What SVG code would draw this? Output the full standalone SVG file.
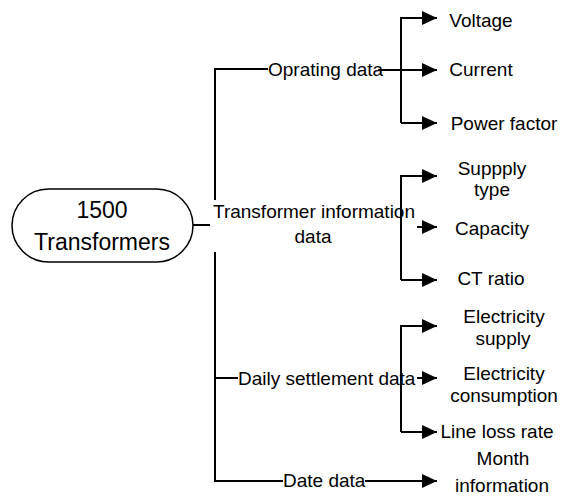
<svg xmlns="http://www.w3.org/2000/svg" width="570" height="502" viewBox="0 0 570 502">
<defs>
<style>
.ln{stroke:#000;stroke-width:2;fill:none}
.ar{stroke:#000;stroke-width:2;fill:none;marker-end:url(#ah)}
text{font-family:"Liberation Sans",Arial,sans-serif;font-size:19px;fill:#000}
.m{text-anchor:middle}
.root{font-size:23px}
</style>
<marker id="ah" markerUnits="userSpaceOnUse" markerWidth="16" markerHeight="14" refX="15" refY="7" orient="auto" viewBox="0 0 16 14">
<path d="M0,0 L15,7 L0,14 z" fill="#000"/>
</marker>
</defs>
<rect width="570" height="502" fill="#fff"/>
<g id="connectors">
<path class="ln" d="M193,225 H210"/>
<path class="ln" d="M268,69 H215 V200"/>
<path class="ln" d="M215,252 V481 H283"/>
<path class="ln" d="M215,378 H238"/>
<path class="ln" d="M378,70 H401"/>
<path class="ar" d="M401,70 H437"/>
<path class="ar" d="M401,123 V18 H437"/>
<path class="ar" d="M401,123 H437"/>
<path class="ar" d="M401,280 V176 H437"/>
<path class="ar" d="M401,280 H437"/>
<path class="ar" d="M417,227 H437"/>
<path class="ar" d="M401,432 V326 H437"/>
<path class="ar" d="M401,432 H437"/>
<path class="ar" d="M417,378 H437"/>
<path class="ar" d="M365,481 H437"/>
</g>
<g id="root">
<rect x="12" y="189" width="181" height="73" rx="36.5" ry="36.5" fill="#fff" stroke="#000" stroke-width="1.5"/>
<text class="m root" x="102" y="218">1500</text>
<text class="m root" x="102" y="250">Transformers</text>
</g>
<g id="oprating"><text x="268" y="76">Oprating data</text></g>
<g id="transinfo"><text class="m" x="314" y="218">Transformer information</text><text class="m" x="313" y="243">data</text></g>
<g id="daily"><text x="238" y="385">Daily settlement data</text></g>
<g id="date"><text x="283" y="487">Date data</text></g>
<g id="voltage"><text class="m" x="481" y="27">Voltage</text></g>
<g id="current"><text class="m" x="481" y="76">Current</text></g>
<g id="powerfactor"><text class="m" x="504" y="130">Power factor</text></g>
<g id="supplytype"><text class="m" x="492" y="175">Suppply</text><text class="m" x="492" y="196">type</text></g>
<g id="capacity"><text class="m" x="492" y="235">Capacity</text></g>
<g id="ctratio"><text class="m" x="491" y="285">CT ratio</text></g>
<g id="elecsupply"><text class="m" x="504" y="323">Electricity</text><text class="m" x="503" y="345">supply</text></g>
<g id="eleccons"><text class="m" x="504" y="380">Electricity</text><text class="m" x="504" y="402">consumption</text></g>
<g id="lineloss"><text class="m" x="497" y="438">Line loss rate</text></g>
<g id="month"><text class="m" x="503" y="465">Month</text><text class="m" x="502" y="492">information</text></g>
</svg>
